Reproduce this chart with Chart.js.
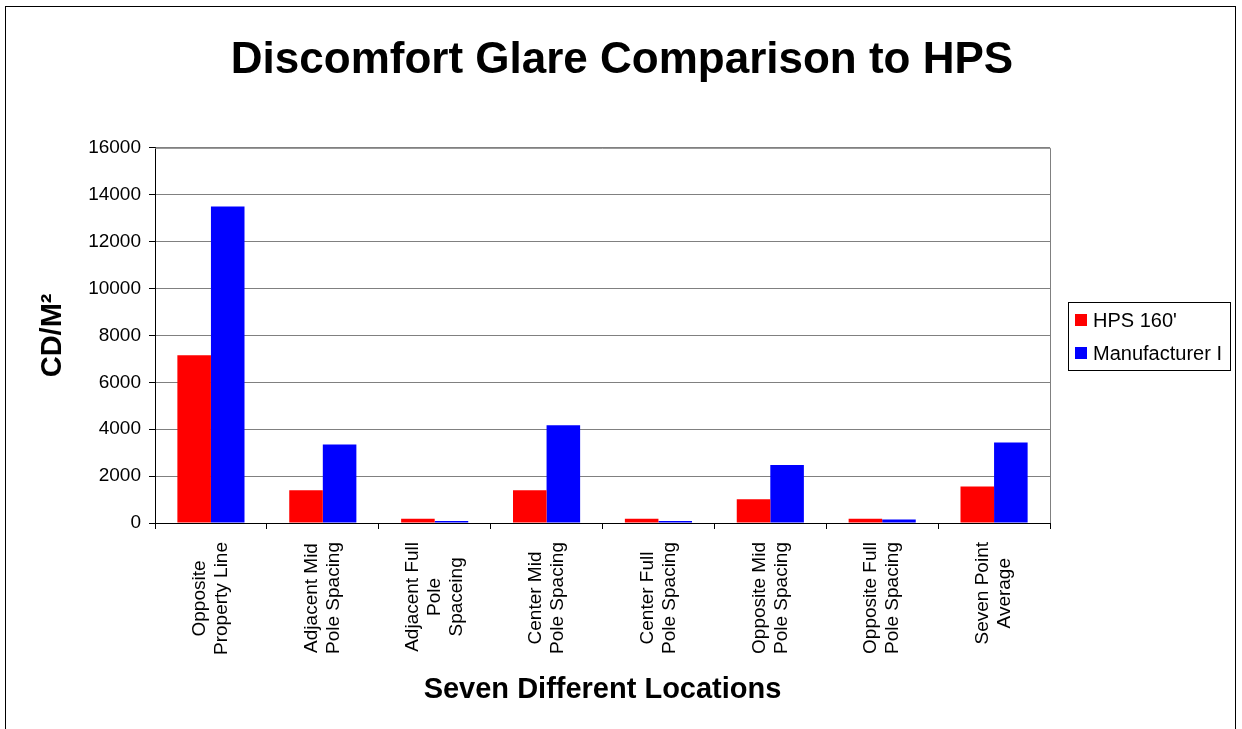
<!DOCTYPE html>
<html lang="en">
<head>
    <meta charset="UTF-8">
    <title>Discomfort Glare Comparison to HPS</title>
    <script src="https://cdn.jsdelivr.net/npm/chart.js"></script>
    <style>
        html, body { margin: 0; padding: 0; background: #fff; }
        #wrap { width: 1242px; height: 729px; }
    </style>
</head>
<body>
    <div id="wrap">
        <canvas id="glareChart" width="1242" height="729"></canvas>
    </div>
    <script>
        var locations = [
            ['Opposite', 'Property Line'],
            ['Adjacent Mid', 'Pole Spacing'],
            ['Adjacent Full', 'Pole', 'Spaceing'],
            ['Center Mid', 'Pole Spacing'],
            ['Center Full', 'Pole Spacing'],
            ['Opposite Mid', 'Pole Spacing'],
            ['Opposite Full', 'Pole Spacing'],
            ['Seven Point', 'Average']
        ];
        var hps160 = [7150, 1400, 180, 1400, 180, 1010, 180, 1560];
        var manufacturerI = [13500, 3350, 85, 4170, 85, 2470, 150, 3430];
        var yTicks = [0, 2000, 4000, 6000, 8000, 10000, 12000, 14000, 16000];

        var chartTitle = 'Discomfort Glare Comparison to HPS';
        var FONT = 'Arial, "Liberation Sans", sans-serif';

        // frame, plot border, title, rotated category labels and boxed legend
        var excelLook = {
            id: 'excelLook',
            afterDraw: function(chart) {
                var ctx = chart.ctx;
                var area = chart.chartArea;
                var xs = chart.scales.x;

                ctx.save();
                ctx.strokeStyle = '#000';
                ctx.lineWidth = 1;
                ctx.strokeRect(5.5, 6.5, 1230, 740);

                ctx.strokeStyle = '#808080';
                ctx.beginPath();
                ctx.moveTo(area.left, area.top + 0.5);
                ctx.lineTo(area.right + 0.5, area.top + 0.5);
                ctx.lineTo(area.right + 0.5, area.bottom);
                ctx.stroke();

                // title centred on the whole page, not the plot
                ctx.fillStyle = '#000';
                ctx.font = 'bold 44px ' + FONT;
                ctx.textAlign = 'center';
                ctx.textBaseline = 'middle';
                ctx.fillText(chartTitle, 622, 61);

                // category labels, lines centred, block hanging from the axis
                ctx.font = '19px ' + FONT;
                var lh = 22;
                chart.data.labels.forEach(function(lines, i) {
                    var x = xs.getPixelForTick(i);
                    var maxW = 0;
                    lines.forEach(function(l) { maxW = Math.max(maxW, ctx.measureText(l).width); });
                    ctx.save();
                    ctx.translate(x, area.bottom + 19 + maxW / 2);
                    ctx.rotate(-Math.PI / 2);
                    lines.forEach(function(l, j) {
                        ctx.fillText(l, 0, (j - (lines.length - 1) / 2) * lh);
                    });
                    ctx.restore();
                });

                // legend box
                var lx = 1068, ly = 302, lw = 162, lhBox = 68;
                ctx.strokeStyle = '#000';
                ctx.strokeRect(lx + 0.5, ly + 0.5, lw, lhBox);
                ctx.textAlign = 'left';
                ctx.font = '20px ' + FONT;
                chart.data.datasets.forEach(function(ds, i) {
                    var cy = ly + 18 + i * 33;
                    ctx.fillStyle = ds.backgroundColor;
                    ctx.fillRect(lx + 7, cy - 6, 12, 12);
                    ctx.fillStyle = '#000';
                    ctx.fillText(ds.label, lx + 25, cy + 1);
                });
                ctx.restore();
            }
        };

        var ctx = document.getElementById('glareChart').getContext('2d');
        var glareChart = new Chart(ctx, {
            type: 'bar',
            data: {
                labels: locations,
                datasets: [{
                    label: "HPS 160'",
                    data: hps160,
                    backgroundColor: '#ff0000',
                    borderWidth: 0
                }, {
                    label: 'Manufacturer I',
                    data: manufacturerI,
                    backgroundColor: '#0000ff',
                    borderWidth: 0
                }]
            },
            options: {
                responsive: false,
                animation: false,
                layout: {
                    padding: { left: 36, right: 192, top: 0, bottom: 0 }
                },
                datasets: {
                    bar: { categoryPercentage: 0.6, barPercentage: 1.0 }
                },
                plugins: {
                    legend: { display: false },
                    tooltip: { enabled: false },
                    title: {
                        // only reserves the space; the text is painted by excelLook
                        display: true,
                        text: chartTitle,
                        color: 'rgba(0,0,0,0)',
                        font: { family: FONT, size: 44, weight: 'bold', lineHeight: 1.2 },
                        padding: { top: 34, bottom: 61 }
                    }
                },
                scales: {
                    x: {
                        offset: true,
                        grid: {
                            offset: true,
                            drawOnChartArea: false,
                            drawTicks: true,
                            tickLength: 6,
                            tickColor: '#000'
                        },
                        border: { color: '#000', width: 1 },
                        ticks: { display: false },
                        title: {
                            display: true,
                            text: 'Seven Different Locations',
                            color: '#000',
                            font: { family: FONT, size: 29, weight: 'bold' },
                            padding: { top: 0, bottom: 22 }
                        },
                        afterFit: function(scale) { scale.height = 206; }
                    },
                    y: {
                        min: 0,
                        max: 16000,
                        afterBuildTicks: function(scale) {
                            scale.ticks = yTicks.map(function(v) { return { value: v }; });
                        },
                        grid: {
                            color: '#808080',
                            tickColor: '#000',
                            tickLength: 6,
                            lineWidth: 1
                        },
                        border: { color: '#000', width: 1 },
                        ticks: {
                            color: '#000',
                            font: { family: FONT, size: 19 },
                            padding: 8,
                            callback: function(v) { return String(v); }
                        },
                        title: {
                            display: true,
                            text: 'CD/M²',
                            color: '#000',
                            font: { family: FONT, size: 29, weight: 'bold' },
                            padding: { top: 0, bottom: 10 }
                        },
                        afterFit: function(scale) { scale.width = 119; }
                    }
                }
            },
            plugins: [excelLook]
        });
    </script>
</body>
</html>
